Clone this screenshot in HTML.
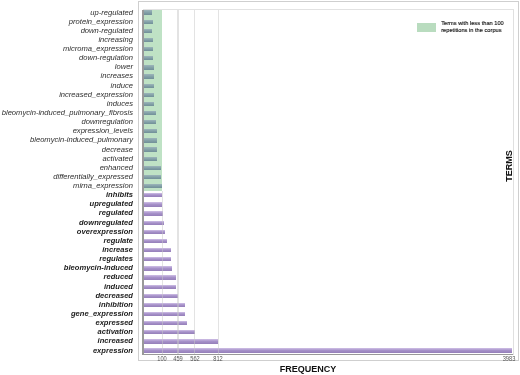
<!DOCTYPE html>
<html><head><meta charset="utf-8"><style>
html,body{margin:0;padding:0;background:#fff;}
body{width:520px;height:375px;position:relative;overflow:hidden;filter:blur(0.35px);font-family:"Liberation Sans",sans-serif;}
.abs{position:absolute;}
.outer{position:absolute;left:137.9px;top:1px;width:381.1px;height:360px;border:1px solid #cfcfcf;box-sizing:border-box;}
.innertop{position:absolute;left:143px;top:9.2px;width:371px;height:1.3px;background:#e2e2e2;}
.innerright{position:absolute;left:512.8px;top:9.5px;width:1.5px;height:345px;background:#e0e0e0;}
.green{position:absolute;left:143px;top:10px;width:19.4px;height:180.6px;background:#bfe2c5;}
.gl{position:absolute;top:10px;width:1.2px;height:344px;background:rgba(200,200,200,0.5);}
.yaxis{position:absolute;left:142.2px;top:10px;width:1.4px;height:345px;background:#999;}
.xaxis{position:absolute;left:142.2px;top:353.7px;width:371px;height:1.4px;background:#999;}
.lbl{position:absolute;right:387.0px;height:10px;line-height:10px;font-size:7.6px;font-style:italic;white-space:nowrap;}
.lbl.n{color:#2e2e2e;}
.lbl.b{color:#1c1c1c;font-weight:bold;}
.bar{position:absolute;left:143.4px;height:4.3px;}
.gb{background:linear-gradient(#9cb5ba,#819fa6 55%,#718f98);}
.pb{background:linear-gradient(#d0c0e6,#a792ca 45%,#957fb9);}
.tk{position:absolute;top:354.5px;width:30px;text-align:center;font-size:6.6px;line-height:7px;color:#555;transform:scaleX(0.86);}
.leg{position:absolute;left:417.3px;top:22.7px;width:19.2px;height:9.6px;background:#b9dcbf;}
.legt{position:absolute;left:441.2px;top:19.7px;font-size:5.7px;line-height:6.9px;color:#1a1a1a;-webkit-text-stroke:0.15px #1a1a1a;white-space:nowrap;}
.terms{position:absolute;left:508.7px;top:166px;transform:translate(-50%,-50%) rotate(-90deg);font-size:9px;font-weight:bold;color:#111;white-space:nowrap;line-height:9px;}
.freq{position:absolute;left:279.8px;top:364.6px;font-size:9px;font-weight:bold;color:#111;white-space:nowrap;line-height:9px;}
</style></head><body>
<div class="outer"></div>
<div class="innertop"></div>
<div class="innerright"></div>
<div class="green"></div>
<div class="lbl n" style="top:7.50px">up-regulated</div>
<div class="bar gb" style="top:10.45px;width:9.00px"></div>
<div class="lbl n" style="top:16.63px">protein_expression</div>
<div class="bar gb" style="top:19.59px;width:9.20px"></div>
<div class="lbl n" style="top:25.77px">down-regulated</div>
<div class="bar gb" style="top:28.72px;width:8.80px"></div>
<div class="lbl n" style="top:34.91px">increasing</div>
<div class="bar gb" style="top:37.86px;width:9.20px"></div>
<div class="lbl n" style="top:44.04px">microma_expression</div>
<div class="bar gb" style="top:46.99px;width:9.60px"></div>
<div class="lbl n" style="top:53.17px">down-regulation</div>
<div class="bar gb" style="top:56.12px;width:9.60px"></div>
<div class="lbl n" style="top:62.31px">lower</div>
<div class="bar gb" style="top:65.26px;width:10.40px"></div>
<div class="lbl n" style="top:71.45px">increases</div>
<div class="bar gb" style="top:74.39px;width:10.40px"></div>
<div class="lbl n" style="top:80.58px">induce</div>
<div class="bar gb" style="top:83.53px;width:10.40px"></div>
<div class="lbl n" style="top:89.72px">increased_expression</div>
<div class="bar gb" style="top:92.66px;width:10.80px"></div>
<div class="lbl n" style="top:98.85px">induces</div>
<div class="bar gb" style="top:101.80px;width:11.00px"></div>
<div class="lbl n" style="top:107.98px">bleomycin-induced_pulmonary_fibrosis</div>
<div class="bar gb" style="top:110.93px;width:12.20px"></div>
<div class="lbl n" style="top:117.12px">downregulation</div>
<div class="bar gb" style="top:120.07px;width:12.80px"></div>
<div class="lbl n" style="top:126.25px">expression_levels</div>
<div class="bar gb" style="top:129.20px;width:13.20px"></div>
<div class="lbl n" style="top:135.39px">bleomycin-induced_pulmonary</div>
<div class="bar gb" style="top:138.34px;width:13.40px"></div>
<div class="lbl n" style="top:144.53px">decrease</div>
<div class="bar gb" style="top:147.47px;width:13.40px"></div>
<div class="lbl n" style="top:153.66px">activated</div>
<div class="bar gb" style="top:156.61px;width:13.60px"></div>
<div class="lbl n" style="top:162.79px">enhanced</div>
<div class="bar gb" style="top:165.74px;width:17.20px"></div>
<div class="lbl n" style="top:171.93px">differentially_expressed</div>
<div class="bar gb" style="top:174.88px;width:17.60px"></div>
<div class="lbl n" style="top:181.06px">mirna_expression</div>
<div class="bar gb" style="top:184.01px;width:18.20px"></div>
<div class="lbl b" style="top:190.20px">inhibits</div>
<div class="bar pb" style="top:193.15px;width:18.60px"></div>
<div class="lbl b" style="top:199.34px">upregulated</div>
<div class="bar pb" style="top:202.28px;width:19.00px"></div>
<div class="lbl b" style="top:208.47px">regulated</div>
<div class="bar pb" style="top:211.42px;width:19.50px"></div>
<div class="lbl b" style="top:217.60px">downregulated</div>
<div class="bar pb" style="top:220.55px;width:20.30px"></div>
<div class="lbl b" style="top:226.74px">overexpression</div>
<div class="bar pb" style="top:229.69px;width:21.30px"></div>
<div class="lbl b" style="top:235.88px">regulate</div>
<div class="bar pb" style="top:238.82px;width:23.30px"></div>
<div class="lbl b" style="top:245.01px">increase</div>
<div class="bar pb" style="top:247.96px;width:27.30px"></div>
<div class="lbl b" style="top:254.15px">regulates</div>
<div class="bar pb" style="top:257.10px;width:27.60px"></div>
<div class="lbl b" style="top:263.28px">bleomycin-induced</div>
<div class="bar pb" style="top:266.23px;width:28.60px"></div>
<div class="lbl b" style="top:272.42px">reduced</div>
<div class="bar pb" style="top:275.37px;width:32.30px"></div>
<div class="lbl b" style="top:281.55px">induced</div>
<div class="bar pb" style="top:284.50px;width:32.40px"></div>
<div class="lbl b" style="top:290.69px">decreased</div>
<div class="bar pb" style="top:293.64px;width:34.30px"></div>
<div class="lbl b" style="top:299.82px">inhibition</div>
<div class="bar pb" style="top:302.77px;width:41.20px"></div>
<div class="lbl b" style="top:308.95px">gene_expression</div>
<div class="bar pb" style="top:311.91px;width:42.10px"></div>
<div class="lbl b" style="top:318.09px">expressed</div>
<div class="bar pb" style="top:321.04px;width:43.30px"></div>
<div class="lbl b" style="top:327.22px">activation</div>
<div class="bar pb" style="top:330.18px;width:51.30px"></div>
<div class="lbl b" style="top:336.36px">increased</div>
<div class="bar pb" style="top:339.31px;width:74.50px"></div>
<div class="lbl b" style="top:345.50px">expression</div>
<div class="bar pb" style="top:348.45px;width:369.10px"></div>
<div class="gl" style="left:161.90px;top:190.6px;height:163.4px"></div>
<div class="gl" style="left:177.40px"></div>
<div class="gl" style="left:193.60px"></div>
<div class="gl" style="left:218.00px"></div>
<div class="yaxis"></div>
<div class="xaxis"></div>
<div class="tk" style="left:147.00px">100</div>
<div class="tk" style="left:162.50px">459</div>
<div class="tk" style="left:179.90px">562</div>
<div class="tk" style="left:203.30px">812</div>
<div class="tk" style="left:494.20px">3983</div>
<div class="leg"></div>
<div class="legt">Terms with less than 100<br>repetitions in the corpus</div>
<div class="terms">TERMS</div>
<div class="freq">FREQUENCY</div>
</body></html>
